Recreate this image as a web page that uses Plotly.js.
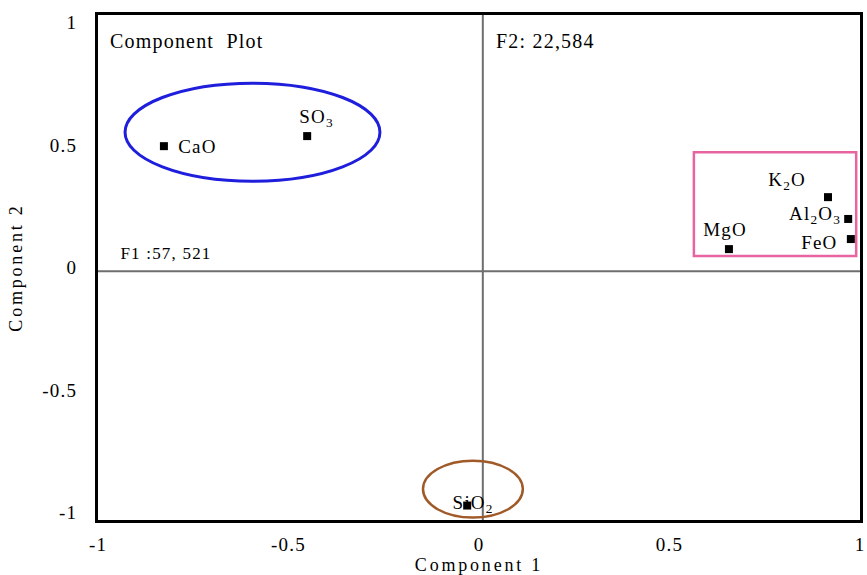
<!DOCTYPE html>
<html>
<head>
<meta charset="utf-8">
<script src="https://cdn.plot.ly/plotly-3.0.1.min.js"></script>
<style>
html,body{margin:0;padding:0;background:#fff;}
#plot{width:867px;height:575px;}
#plot .annotation-text{letter-spacing:1.2px;}
#plot .xtitle, #plot .ytitle{letter-spacing:2.8px;}
#plot .xtick text, #plot .ytick text{letter-spacing:1.2px;}
</style>
</head>
<body>
<div id="plot"></div>
<script>
// Component loadings
const oxides = ['CaO', 'SO<sub>3</sub>', 'K<sub>2</sub>O', 'Al<sub>2</sub>O<sub>3</sub>', 'FeO', 'MgO', 'SiO<sub>2</sub>'];
const comp1 = [-0.827, -0.451, 0.916, 0.969, 0.976, 0.656, -0.031];
const comp2 = [0.495, 0.536, 0.287, 0.198, 0.116, 0.075, -0.971];

const tickVals = [-1, -0.5, 0, 0.5, 1];
const tickText = ['-1', '-0.5', '0', '0.5', '1'];

// label placement (style only)
const labelAnchor = ['left', 'center', 'right', 'right', 'right', 'center', 'center'];
const labelDX = [14, 9, -22, -8, -13, -4, 6];
const labelDY = [0, 18, 16, 4, -3, 20, 2];

const serif = 'Liberation Serif, Times New Roman, serif';

const trace = {
  x: comp1,
  y: comp2,
  mode: 'markers',
  type: 'scatter',
  marker: {symbol: 'square', size: 8, color: '#000'},
  cliponaxis: false,
  hoverinfo: 'skip',
  showlegend: false
};

const labelAnns = oxides.map((t, i) => ({
  text: t, x: comp1[i], y: comp2[i], xref: 'x', yref: 'y',
  xanchor: labelAnchor[i], yanchor: 'middle',
  xshift: labelDX[i], yshift: labelDY[i],
  showarrow: false, font: {family: serif, size: 19, color: '#000'}
}));

const layout = {
  width: 867,
  height: 575,
  margin: {l: 98, r: 7, t: 15, b: 55},
  paper_bgcolor: '#fff',
  plot_bgcolor: '#fff',
  font: {family: serif, color: '#000'},
  showlegend: false,
  xaxis: {
    range: [-1, 1],
    tickvals: tickVals,
    ticktext: tickText,
    ticks: '',
    ticklabelstandoff: 5,
    tickfont: {family: serif, size: 19, color: '#000'},
    showgrid: false,
    zeroline: false,
    showline: true,
    mirror: true,
    linewidth: 3,
    linecolor: '#000',
    title: {text: 'Component 1', font: {family: serif, size: 18, color: '#000'}, standoff: 3}
  },
  yaxis: {
    range: [-1.03, 1.03],
    tickvals: tickVals,
    ticktext: tickText,
    ticks: '',
    ticklabelstandoff: 14,
    tickfont: {family: serif, size: 19, color: '#000'},
    showgrid: false,
    zeroline: false,
    showline: true,
    mirror: true,
    linewidth: 3,
    linecolor: '#000',
    title: {text: 'Component 2', font: {family: serif, size: 18, color: '#000'}, standoff: 20}
  },
  shapes: [
    {type: 'line', xref: 'x', yref: 'paper', x0: 0.01, x1: 0.01, y0: 0, y1: 1, line: {color: '#6e6e6e', width: 2}, layer: 'below'},
    {type: 'line', xref: 'paper', yref: 'y', x0: 0, x1: 1, y0: -0.015, y1: -0.015, line: {color: '#6e6e6e', width: 2}, layer: 'below'},
    {type: 'circle', xref: 'x', yref: 'y', x0: -0.929, x1: -0.260, y0: 0.352, y1: 0.752, line: {color: 'rgb(30,30,220)', width: 3}},
    {type: 'circle', xref: 'x', yref: 'y', x0: -0.147, x1: 0.115, y0: -1.02, y1: -0.788, line: {color: 'rgb(160,90,40)', width: 2.5}},
    {type: 'rect', xref: 'x', yref: 'y', x0: 0.564, x1: 0.99, y0: 0.047, y1: 0.470, line: {color: 'rgb(232,100,160)', width: 2.5}}
  ],
  annotations: [
    {text: 'Component  Plot', x: -0.95, y: 0.923, xref: 'x', yref: 'y', xanchor: 'left', yanchor: 'middle', showarrow: false, font: {family: serif, size: 20, color: '#000'}},
    {text: 'F2: 22,584', x: 0.055, y: 0.923, xref: 'x', yref: 'y', xanchor: 'left', yanchor: 'middle', showarrow: false, font: {family: serif, size: 20, color: '#000'}},
    {text: 'F1 :57, 521', x: -0.93, y: 0.059, xref: 'x', yref: 'y', xanchor: 'left', yanchor: 'middle', showarrow: false, font: {family: serif, size: 17, color: '#000'}}
  ].concat(labelAnns)
};

Plotly.newPlot('plot', [trace], layout, {displayModeBar: false, staticPlot: true});
</script>
</body>
</html>
